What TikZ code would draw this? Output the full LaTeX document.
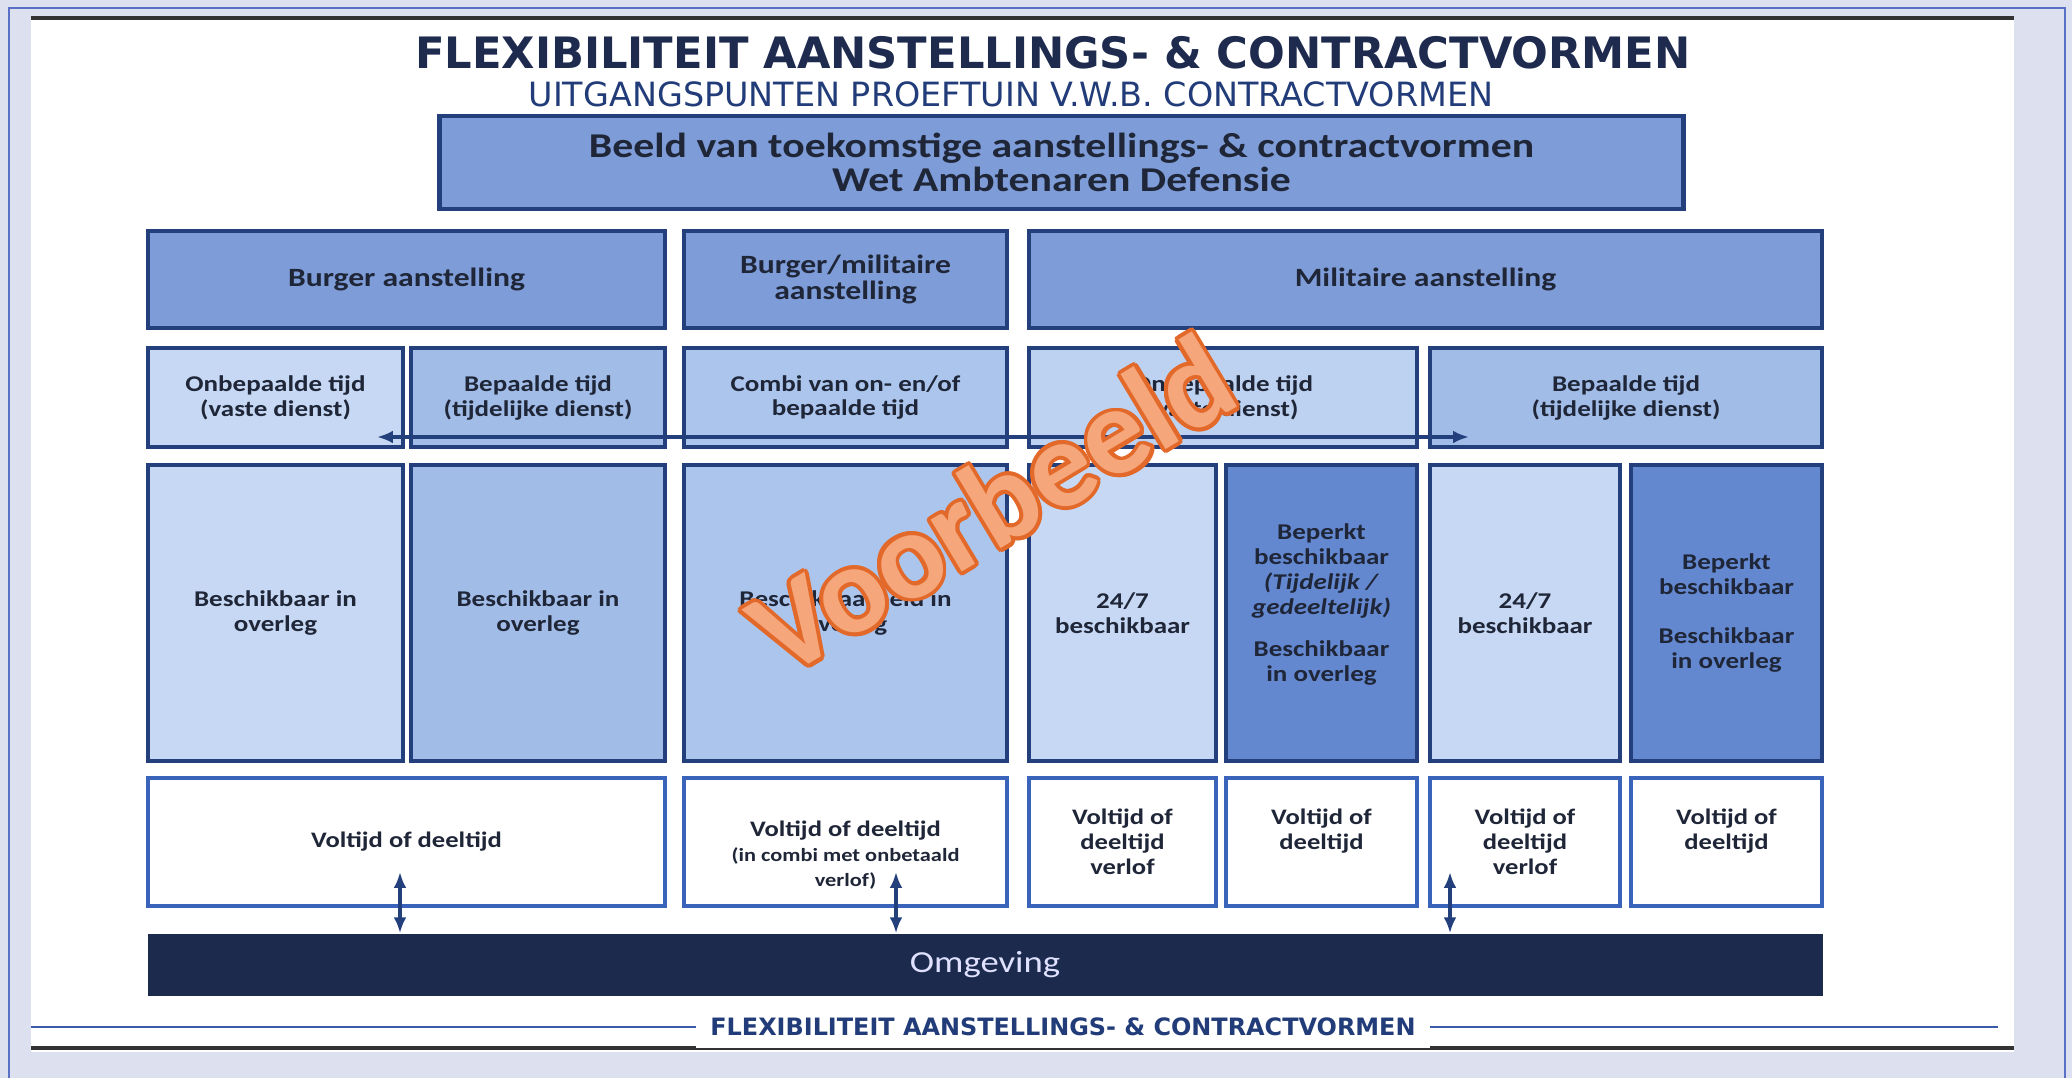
\documentclass[tikz,border=0pt]{standalone}
\usepackage{fontspec}
\setmainfont{Carlito}[FakeStretch=1.2]
\newfontfamily\titlefont{DejaVu Sans}
\newfontfamily\wmfont{Carlito}
\usepackage[copies]{contour}
\contourlength{1.1pt}
\usetikzlibrary{arrows.meta, positioning}

\definecolor{navy}{HTML}{233F7C}
\definecolor{txtcol}{HTML}{1F2638}
\definecolor{titlecol}{HTML}{1E2B4F}
\definecolor{subcol}{HTML}{213C78}
\definecolor{catblue}{HTML}{7E9CD7}
\definecolor{lightblue}{HTML}{C6D8F3}
\definecolor{lightblueb}{HTML}{BDD1F1}
\definecolor{midblue}{HTML}{A1BCE7}
\definecolor{combiblue}{HTML}{ABC5ED}
\definecolor{darkblue}{HTML}{6488D0}
\definecolor{volblue}{HTML}{3A63BB}
\definecolor{omgcol}{HTML}{1C2B4D}
\definecolor{bgcol}{HTML}{DDE1EF}
\definecolor{framecol}{HTML}{5A6FC6}
\definecolor{footblue}{HTML}{3B5AA8}
\definecolor{wmfill}{HTML}{F6A67B}
\definecolor{wmdark}{HTML}{E2692A}

\newcommand{\smalltxt}{\fontsize{5.3}{7.3}\selectfont}

\begin{document}
\begin{tikzpicture}[x=0.01cm, y=-0.01cm,
      box/.style={rectangle, draw=navy, line width=1.1pt, align=center, inner sep=1pt, text=txtcol,
        font=\bfseries\fontsize{6.4}{7.1}\selectfont},
      cat/.style={box, fill=catblue, minimum height=0.97cm, font=\bfseries\fontsize{7.5}{7.5}\selectfont},
      term/.style={box, minimum height=0.99cm},
      avail/.style={box, minimum height=2.96cm},
      vol/.style={box, draw=volblue, fill=white, minimum height=1.28cm, font=\bfseries\fontsize{6.3}{7.1}\selectfont},
      dblarrow/.style={{Latex[length=4.5pt,width=3.6pt]}-{Latex[length=4.5pt,width=3.6pt]}, navy, line width=0.9pt}]

      \useasboundingbox (0,0) rectangle (2072,1078);

      % Slide
      \fill[bgcol] (0,0) rectangle (2072,1078);
      \draw[framecol, line width=0.7pt] (9,1078) -- (9,8) -- (2065,8) -- (2065,1078);
      \fill[white] (31,16) rectangle (2014,1052);
      \draw[black!80, line width=1.2pt] (31,18) -- (2014,18);
      \draw[black!80, line width=1.2pt] (31,1048) -- (2014,1048);
      \draw[footblue, line width=0.5pt] (31,1027) -- (1998,1027);

      % Titles
      \node[font=\titlefont\bfseries\fontsize{12.3}{14}\selectfont, text=titlecol] (title) at (1053,53)
        {FLEXIBILITEIT AANSTELLINGS- \& CONTRACTVORMEN};
      \node[font=\titlefont\fontsize{9.5}{11}\selectfont, text=subcol] (subtitle) at (1011,94)
        {UITGANGSPUNTEN PROEFTUIN V.W.B. CONTRACTVORMEN};
      \node[box, fill=catblue, line width=1.3pt, minimum width=12.43cm, minimum height=0.93cm,
        font=\bfseries\fontsize{9.9}{9.6}\selectfont] (beeld) at (1061.5,162.5)
        {Beeld van toekomstige aanstellings- \& contractvormen\\Wet Ambtenaren Defensie};

      % Aanstellingen
      \node[cat, minimum width=5.17cm] (burger) at (406.5,279.5) {Burger aanstelling};
      \node[cat, minimum width=3.23cm] (burgmil) at (845.5,279.5) {Burger/militaire\\aanstelling};
      \node[cat, minimum width=7.93cm] (militair) at (1425.5,279.5) {Militaire aanstelling};

      % Contractvormen
      \node[term, fill=lightblue, minimum width=2.55cm] (onb1) at (275.5,397.5) {Onbepaalde tijd\\(vaste dienst)};
      \node[term, fill=midblue, minimum width=2.54cm] (bep1) at (538,397.5) {Bepaalde tijd\\(tijdelijke dienst)};
      \node[term, fill=combiblue, minimum width=3.23cm] (combi) at (845.5,397.5) {Combi van on- en/of\\bepaalde tijd};
      \node[term, fill=lightblueb, minimum width=3.88cm] (onb2) at (1223,397.5) {Onbepaalde tijd\\(vaste dienst)};
      \node[term, fill=midblue, minimum width=3.92cm] (bep2) at (1626,397.5) {Bepaalde tijd\\(tijdelijke dienst)};

      % Beschikbaarheid
      \node[avail, fill=lightblue, minimum width=2.55cm] (besch1) at (275.5,613) {Beschikbaar in\\overleg};
      \node[avail, fill=midblue, minimum width=2.54cm] (besch2) at (538,613) {Beschikbaar in\\overleg};
      \node[avail, fill=combiblue, minimum width=3.23cm] (besch3) at (845.5,613) {Beschikbaarheid in\\overleg};
      \node[avail, fill=lightblue, minimum width=1.87cm] (full1) at (1122.5,613) {24/7\\beschikbaar};
      \node[avail, fill=darkblue, minimum width=1.91cm] (beperkt1) at (1321.5,613)
        {Beperkt\\beschikbaar\\\textit{(Tijdelijk /}\\\textit{gedeeltelijk)}\\[4.8pt]Beschikbaar\\in overleg\rule[-6pt]{0pt}{6pt}};
      \node[avail, fill=lightblue, minimum width=1.90cm] (full2) at (1525,613) {24/7\\beschikbaar};
      \node[avail, fill=darkblue, minimum width=1.91cm] (beperkt2) at (1726.5,613)
        {Beperkt\\beschikbaar\\[7pt]Beschikbaar\\in overleg};

      % Voltijd / deeltijd
      \node[vol, minimum width=5.17cm] (vol1) at (406.5,842) {Voltijd of deeltijd};
      \node[vol, minimum width=3.23cm] (vol2) at (845.5,842)
        {\rule{0pt}{12pt}Voltijd of deeltijd\\\smalltxt (in combi met onbetaald\\\smalltxt verlof)};
      \node[vol, minimum width=1.87cm] (vol3) at (1122.5,842) {Voltijd of\\deeltijd\\verlof};
      \node[vol, minimum width=1.91cm] (vol4) at (1321.5,842) {Voltijd of\\deeltijd\\\mbox{}};
      \node[vol, minimum width=1.90cm] (vol5) at (1525,842) {Voltijd of\\deeltijd\\verlof};
      \node[vol, minimum width=1.91cm] (vol6) at (1726.5,842) {Voltijd of\\deeltijd\\\mbox{}};

      \node[fill=omgcol, minimum width=16.74cm, minimum height=0.62cm, text=white!88!blue,
        font=\fontsize{8.7}{10}\selectfont] (omg) at (985,965) {Omgeving};

      % Arrows
      \coordinate (left) at (377,437);
      \coordinate (right) at (1469,437);
      \draw[dblarrow] (left) -- (right);
      \foreach \x [count=\i] in {400, 896, 1450} {
        \coordinate (up\i) at (\x,872);
        \draw[dblarrow] (up\i) -- (up\i |- omg.north);
      }

      % Footer
      \node[fill=white, inner xsep=4pt, font=\titlefont\bfseries\fontsize{6.8}{8}\selectfont, text=subcol] (footer)
        at (1063,1027) {FLEXIBILITEIT AANSTELLINGS- \& CONTRACTVORMEN};

      % Watermark
      \node[rotate=31, font=\wmfont\bfseries\fontsize{35.5}{35.5}\selectfont] (voorbeeld) at (992,506)
        {\color{wmfill}\contour{wmdark}{Voorbeeld}};
    \end{tikzpicture}
\end{document}
